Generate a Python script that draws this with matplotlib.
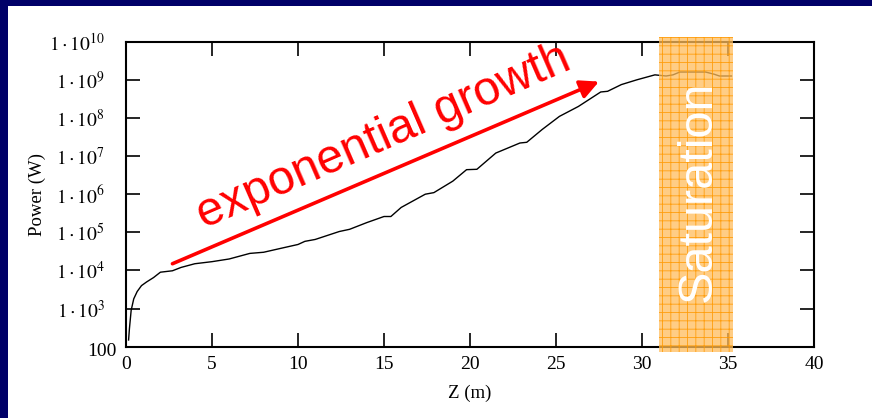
import numpy as np
import matplotlib.pyplot as plt
from matplotlib.patches import Rectangle
from matplotlib.ticker import FixedLocator, FuncFormatter
import matplotlib.transforms as mtransforms

plt.rcParams['font.family'] = 'Liberation Serif'
plt.rcParams['mathtext.fontset'] = 'stix'
plt.rcParams['hatch.linewidth'] = 0.6

# position along the undulator (m) and radiated power (W)
z_m = [0.15, 0.2, 0.3, 0.45, 0.65, 0.9, 1.2, 1.6, 2.0, 2.7, 3.2, 4.0, 5.0,
       6.0, 7.2, 8.0, 9.0, 10.0, 10.4, 11.0, 12.4, 13.0, 14.0, 15.0, 15.4,
       16.0, 17.4, 17.9, 19.0, 19.8, 20.4, 21.5, 22.9, 23.3, 24.2, 25.2,
       26.3, 27.6, 28.0, 28.8, 29.7, 30.75, 31.4, 31.8, 32.2, 33.7, 34.2,
       34.5, 35.2]
power_w = [150, 300, 900, 1.8e3, 2.8e3, 4.0e3, 5.0e3, 6.5e3, 9.0e3, 9.8e3,
           1.2e4, 1.5e4, 1.7e4, 2.0e4, 2.8e4, 3.0e4, 3.8e4, 4.8e4, 5.8e4,
           6.5e4, 1.05e5, 1.2e5, 1.8e5, 2.6e5, 2.6e5, 4.5e5, 1.0e6, 1.1e6,
           2.2e6, 4.4e6, 4.5e6, 1.2e7, 2.2e7, 2.3e7, 5.0e7, 1.1e8, 2.0e8,
           4.8e8, 5.0e8, 7.5e8, 1.0e9, 1.35e9, 1.26e9, 1.35e9, 1.6e9, 1.6e9,
           1.4e9, 1.26e9, 1.26e9]

x_ticks = [0, 5, 10, 15, 20, 25, 30, 35, 40]
y_ticks = [1e2, 1e3, 1e4, 1e5, 1e6, 1e7, 1e8, 1e9, 1e10]

sat_start, sat_end = 31.0, 35.3
arrow_tail = (2.7, 1.5e4)
arrow_head = (27.5, 9.0e8)


def power_label(v, pos):
    e = int(round(np.log10(v)))
    if e == 2:
        return '100'
    return r'$1\cdot10^{%d}$' % e


fig = plt.figure(figsize=(8.72, 4.18), dpi=100)
fig.patch.set_facecolor('white')

# dark slide frame on the top and left edges
fig.patches.append(Rectangle((0, 1 - 6 / 418), 1, 6 / 418, transform=fig.transFigure,
                             facecolor='#000068', edgecolor='none', zorder=0))
fig.patches.append(Rectangle((0, 0), 8 / 872, 1, transform=fig.transFigure,
                             facecolor='#000068', edgecolor='none', zorder=0))

ax = fig.add_axes([126 / 872, 1 - 346.7 / 418, (814 - 126) / 872, (346.7 - 41.7) / 418])
ax.plot(z_m, power_w, color='black', lw=1.0, zorder=2)
ax.set_yscale('log')
ax.set_xlim(0, 40)
ax.set_ylim(1e2, 1e10)

ax.xaxis.set_major_locator(FixedLocator(x_ticks))
ax.yaxis.set_major_locator(FixedLocator(y_ticks))
ax.yaxis.set_minor_locator(FixedLocator([]))
ax.yaxis.set_major_formatter(FuncFormatter(power_label))
ax.tick_params(which='major', direction='in', length=10, width=1.2,
               top=True, right=True, labelsize=14, color='black')
ax.tick_params(axis='x', pad=7)
ax.tick_params(axis='y', pad=15)
for s in ax.spines.values():
    s.set_linewidth(1.5)

# the plain "100" label sits closer to the axis than the power-of-ten ones
lab100 = ax.yaxis.get_major_ticks()[0].label1
lab100.set_transform(lab100.get_transform() +
                     mtransforms.ScaledTranslation(11 / 100, -3 / 100, fig.dpi_scale_trans))

ax.set_xlabel('Z (m)', fontsize=13.5, labelpad=8)
ax.set_ylabel('Power (W)', fontsize=13.5, labelpad=2)

# saturation band, shaded over the curve and spilling past the frame
blend = mtransforms.blended_transform_factory(ax.transData, ax.transAxes)
ax.add_patch(Rectangle((sat_start, -0.016), sat_end - sat_start, 1.03,
                       transform=blend, clip_on=False,
                       facecolor=(1.0, 0.74, 0.36, 0.75), edgecolor=(1.0, 0.6, 0.0, 0.9),
                       hatch='++', lw=0, zorder=5))
ax.text((sat_start + sat_end) / 2 + 0.1, 0.51, 'Saturation', transform=blend,
        rotation=90, ha='center', va='center', color='white',
        fontsize=35, family='Liberation Sans', zorder=6)

ax.annotate('', xy=arrow_head, xytext=arrow_tail,
            arrowprops=dict(arrowstyle='-|>', color='red', lw=2.6,
                            mutation_scale=28, shrinkA=0, shrinkB=0),
            zorder=4)
ax.text(15.0, 10 ** 7.5, 'exponential growth', rotation=23.5,
        rotation_mode='anchor', ha='center', va='center', color='red',
        fontsize=34.5, family='Liberation Sans', zorder=4)

fig.savefig('out.png', dpi=100, facecolor='white')
